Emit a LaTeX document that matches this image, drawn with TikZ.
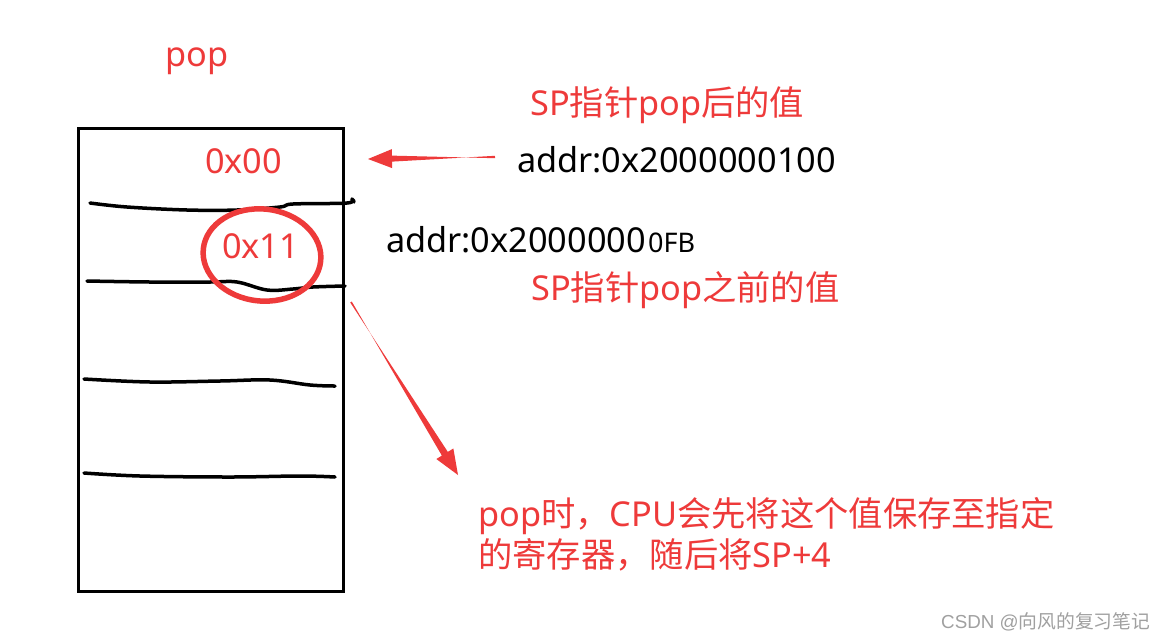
\documentclass[tikz,border=0pt]{standalone}
\usepackage{fontspec}
\setmainfont{Noto Sans}
\newfontfamily\cjk{Noto Sans CJK SC}
\newfontfamily\wmfont{Liberation Sans}
\usetikzlibrary{calc}
\definecolor{myred}{RGB}{238,58,58}
\definecolor{wmgray}{RGB}{160,160,160}
\begin{document}
\begin{tikzpicture}[x=1pt,y=-1pt,
  redtext/.style={text=myred,inner sep=0pt,anchor=base west,font=\fontsize{34.3}{40}\selectfont},
  blacktext/.style={text=black,inner sep=0pt,anchor=base west,font=\fontsize{34.3}{40}\selectfont},
  hand/.style={line width=3.5pt,line cap=round,line join=round,black},
  arrowfill/.style={fill=myred,draw=none}]
\useasboundingbox[fill=white] (0,0) rectangle (1168,641);

% stack box
\draw[line width=3pt] (78,128) rectangle (343,591);

% hand-drawn separators
\draw[hand] plot[smooth,tension=0.6] coordinates {(90,203) (127,207) (187,210) (237,210) (280,207) (293,204) (347,203) (352,199) (354,202)};
\draw[hand] plot[smooth,tension=0.6] coordinates {(87,281) (150,282) (210,282) (237,282) (267,290) (293,289) (313,287) (345,286)};
\draw[hand] plot[smooth,tension=0.6] coordinates {(84,379) (150,382) (220,381) (270,380) (310,385) (335,386)};
\draw[hand] plot[smooth,tension=0.6] coordinates {(84,473) (140,476) (230,477) (300,476) (335,477)};

% texts
\node[redtext] (pop) at (165,66) {pop};
\node[redtext] (v00) at (205,173) {0x00};
\node[redtext] (v11) at (222,258) {0x11};
\draw[myred,line width=5.5pt,rotate around={-6:(262,255)}] (262,255) ellipse [x radius=59,y radius=46];

\node[redtext] (after) at (530,115) {SP{\cjk 指针}pop{\cjk 后的值}};
\node[blacktext] (addr1) at (517,172) {addr:0x2000000100};
\node[blacktext] (addr2) at (386,252) {addr:0x2000000\hspace{2pt}{\fontsize{27}{30}\selectfont 0FB}};
\node[redtext] (before) at (531,300) {SP{\cjk 指针}pop{\cjk 之前的值}};
\node[redtext] (note1) at (478,526) {pop{\cjk 时，}CPU{\cjk 会先将这个值保存至指定}};
\node[redtext] (note2) at (478,567) {{\cjk 的寄存器，随后将}SP+4};

\node[text=wmgray,inner sep=0pt,anchor=base west,font=\fontsize{18.8}{22}\selectfont\wmfont] (wm) at (941,628) {CSDN @{\cjk 向风的复习笔记}};

% horizontal arrow (tapered)
\coordinate (hTail) at (495,157);
\coordinate (hTip) at (368,159);
\coordinate (hBase) at ($(hTip)!24pt!(hTail)$);
\fill[arrowfill] ($(hTail)!1.2pt!90:(hTip)$) -- ($(hBase)!3pt!-90:(hTip)$) -- ($(hBase)!9.5pt!-90:(hTip)$) -- (hTip)
  -- ($(hBase)!9.5pt!90:(hTip)$) -- ($(hBase)!3pt!90:(hTip)$) -- ($(hTail)!1.2pt!-90:(hTip)$) -- cycle;

% diagonal arrow (tapered)
\coordinate (dTail) at (351,302);
\coordinate (dTip) at (458,475);
\coordinate (dBase) at ($(dTip)!25pt!(dTail)$);
\fill[arrowfill] ($(dTail)!0.9pt!90:(dTip)$) -- ($(dBase)!3.5pt!-90:(dTip)$) -- ($(dBase)!10pt!-90:(dTip)$) -- (dTip)
  -- ($(dBase)!10pt!90:(dTip)$) -- ($(dBase)!3.5pt!90:(dTip)$) -- ($(dTail)!0.9pt!-90:(dTip)$) -- cycle;
\end{tikzpicture}
\end{document}
